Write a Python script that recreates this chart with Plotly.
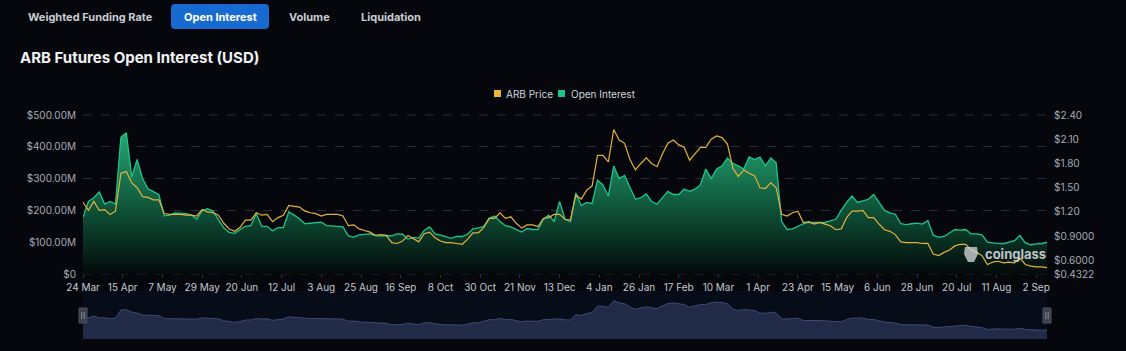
import plotly.graph_objects as go
import pandas as pd

# ---------------- data ----------------
start_date = "2023-03-24"
step_days = 3

open_interest_musd = [
    178, 228, 240, 258, 220, 228, 220, 430, 444, 305,
    360, 300, 268, 258, 250, 183, 185, 192, 192, 190,
    186, 173, 199, 205, 198, 172, 145, 131, 128, 140,
    150, 152, 190, 150, 150, 136, 146, 146, 195, 185,
    173, 158, 160, 160, 163, 152, 150, 150, 148, 120,
    116, 123, 124, 126, 121, 119, 121, 120, 126, 125,
    110, 115, 113, 137, 148, 126, 122, 118, 112, 118,
    118, 125, 142, 145, 150, 175, 182, 165, 152, 148,
    140, 132, 143, 140, 140, 172, 185, 165, 228, 172,
    165, 255, 215, 225, 222, 295, 280, 245, 340, 300,
    310, 272, 235, 240, 252, 228, 220, 240, 260, 250,
    250, 267, 260, 267, 280, 330, 300, 330, 340, 365,
    348, 340, 330, 368, 360, 368, 340, 365, 350, 165,
    140, 142, 150, 158, 162, 162, 164, 162, 167, 172,
    200, 225, 245, 225, 230, 235, 250, 225, 200, 192,
    188, 158, 155, 158, 160, 157, 168, 122, 115, 118,
    128, 140, 138, 140, 126, 126, 123, 100, 98, 96,
    95, 100, 105, 121, 98, 92, 95, 95, 100,
]

arb_price_usd = [
    1.32, 1.22, 1.33, 1.22, 1.23, 1.17, 1.21, 1.68, 1.70, 1.56,
    1.50, 1.39, 1.38, 1.35, 1.35, 1.18, 1.17, 1.17, 1.17, 1.16,
    1.16, 1.15, 1.23, 1.20, 1.19, 1.16, 1.06, 0.99, 0.96, 1.01,
    1.10, 1.10, 1.19, 1.16, 1.17, 1.08, 1.13, 1.16, 1.28, 1.27,
    1.26, 1.21, 1.19, 1.18, 1.15, 1.17, 1.17, 1.17, 1.15, 1.03,
    1.04, 0.99, 0.97, 0.95, 0.91, 0.92, 0.91, 0.82, 0.81, 0.84,
    0.91, 0.87, 0.83, 0.93, 0.95, 0.88, 0.84, 0.82, 0.82, 0.81,
    0.80, 0.86, 0.94, 0.94, 1.01, 1.12, 1.12, 1.19, 1.12, 1.14,
    1.06, 1.00, 1.04, 1.04, 1.02, 1.12, 1.13, 1.17, 1.17, 1.11,
    1.10, 1.41, 1.36, 1.47, 1.52, 1.90, 1.90, 1.82, 2.22, 2.09,
    2.05, 1.85, 1.72, 1.80, 1.87, 1.80, 1.76, 1.92, 2.05, 2.09,
    2.03, 2.00, 1.84, 1.92, 2.00, 2.00, 2.10, 2.14, 2.12, 2.04,
    1.74, 1.64, 1.72, 1.68, 1.65, 1.50, 1.49, 1.56, 1.50, 1.17,
    1.15, 1.19, 1.21, 1.07, 1.08, 1.05, 1.07, 1.05, 1.03, 0.98,
    0.99, 1.13, 1.21, 1.21, 1.22, 1.13, 1.13, 1.05, 0.98, 0.96,
    0.92, 0.83, 0.82, 0.82, 0.82, 0.81, 0.81, 0.68, 0.66, 0.70,
    0.73, 0.78, 0.80, 0.80, 0.73, 0.70, 0.66, 0.55, 0.58, 0.59,
    0.57, 0.58, 0.57, 0.63, 0.55, 0.53, 0.52, 0.52, 0.51,
]

dates = pd.date_range(start_date, periods=len(open_interest_musd), freq=f"{step_days}D")

x_tick_labels = ["24 Mar", "15 Apr", "7 May", "29 May", "20 Jun", "12 Jul", "3 Aug",
                 "25 Aug", "16 Sep", "8 Oct", "30 Oct", "21 Nov", "13 Dec", "4 Jan",
                 "26 Jan", "17 Feb", "10 Mar", "1 Apr", "23 Apr", "15 May", "6 Jun",
                 "28 Jun", "20 Jul", "11 Aug", "2 Sep"]
x_tick_dates = pd.date_range(start_date, periods=len(x_tick_labels), freq="22D")

oi_tick_vals = [0, 100, 200, 300, 400, 500]
oi_tick_labels = ["$0", "$100.00M", "$200.00M", "$300.00M", "$400.00M", "$500.00M"]
price_tick_vals = [0.4322, 0.6, 0.9, 1.2, 1.5, 1.8, 2.1, 2.4]
price_tick_labels = ["$0.4322", "$0.6000", "$0.9000", "$1.20", "$1.50", "$1.80", "$2.10", "$2.40"]

tab_labels = ["Weighted Funding Rate", "Open Interest", "Volume", "Liquidation"]
chart_title = "ARB Futures Open Interest (USD)"
legend_labels = ["ARB Price", "Open Interest"]

# ---------------- style ----------------
W, H = 1126, 351
ML, MR, MT, MB = 83, 79, 115, 12
PW, PH = W - ML - MR, H - MT - MB
BG = "#05070c"
FONT = "Inter, Noto Sans, sans-serif"
GREEN = "#1ec48c"
GOLD = "#e4b13c"
AXIS_TXT = "#a6abb5"
GRID = "#2a2e38"


def px(x):
    return (x - ML) / PW


def py(y):
    return (H - MB - y) / PH


main_bottom = py(274)
nav_top = py(291)

fig = go.Figure()

fig.add_trace(go.Scatter(
    x=dates, y=open_interest_musd, name=legend_labels[1], mode="lines",
    line=dict(color=GREEN, width=1.3), fill="tozeroy",
    fillgradient=dict(type="vertical", start=0, stop=450,
                      colorscale=[[0, "rgba(4,10,10,1)"], [0.45, "rgba(14,82,56,1)"],
                                  [1, "rgba(38,168,116,1)"]]),
    xaxis="x", yaxis="y", hoverinfo="skip", showlegend=False))

fig.add_trace(go.Scatter(
    x=dates, y=arb_price_usd, name=legend_labels[0], mode="lines",
    line=dict(color=GOLD, width=1.2), xaxis="x", yaxis="y3",
    hoverinfo="skip", showlegend=False))

# navigator
fig.add_trace(go.Scatter(
    x=dates, y=arb_price_usd, mode="lines", line=dict(color="#3d4b74", width=1),
    fill="tozeroy", fillcolor="#212b47", xaxis="x2", yaxis="y2",
    hoverinfo="skip", showlegend=False))

xr = [dates[0], dates[-1]]

fig.update_layout(
    width=W, height=H, margin=dict(l=ML, r=MR, t=MT, b=MB, autoexpand=False),
    paper_bgcolor=BG, plot_bgcolor=BG, font=dict(family=FONT, color=AXIS_TXT, size=10),
    xaxis=dict(domain=[0, 1], anchor="y", range=xr, tickvals=x_tick_dates, ticktext=x_tick_labels,
               showgrid=False, zeroline=False, showline=False, ticks="outside", ticklen=3,
               tickcolor="#2c313c", tickfont=dict(size=10, color="#c3c7cf"), ticklabelstandoff=1,
               automargin=False),
    yaxis=dict(domain=[main_bottom, 1], anchor="x", range=[0, 500], tickvals=oi_tick_vals,
               ticktext=oi_tick_labels, showgrid=True, gridcolor=GRID, griddash="dash",
               gridwidth=1, zeroline=False, showline=False, ticklabelstandoff=6,
               tickfont=dict(size=10, color=AXIS_TXT), automargin=False),
    yaxis3=dict(overlaying="y", side="right", anchor="x", range=[0.4322, 2.40],
                tickvals=price_tick_vals, ticktext=price_tick_labels, showgrid=False,
                zeroline=False, showline=False, ticklabelstandoff=6,
                tickfont=dict(size=10, color=AXIS_TXT), automargin=False),
    xaxis2=dict(domain=[0, 1], anchor="y2", matches="x", visible=False, automargin=False),
    yaxis2=dict(domain=[0, nav_top], anchor="x2", range=[0, 2.78], visible=False,
                automargin=False),
    showlegend=False,
)

shapes = []
# top / bottom grid lines drawn explicitly so edges always show
for gy in (0, 1):
    shapes.append(dict(type="line", xref="paper", yref="y domain", x0=0, x1=1, y0=gy, y1=gy,
                       line=dict(color=GRID, width=1, dash="dash"), layer="below"))
# navigator background
shapes.append(dict(type="rect", xref="x2 domain", yref="y2 domain", x0=0, x1=1, y0=0, y1=1,
                   fillcolor="#070c19", line=dict(width=0), layer="below"))
# navigator handles
for hx in (0, 1):
    shapes.append(dict(type="rect", xref="paper", yref="paper",
                       x0=hx - 4 / PW, x1=hx + 4 / PW, y0=py(323), y1=py(308),
                       fillcolor="#3b404c", line=dict(color="#4a505c", width=1)))
    for off in (-1.2, 1.2):
        shapes.append(dict(type="line", xref="paper", yref="paper",
                           x0=hx + off / PW, x1=hx + off / PW, y0=py(319), y1=py(312),
                           line=dict(color="#9aa0aa", width=0.8)))

# rounded tab button
bx0, bx1, by0, by1, r = px(171), px(269), py(29), py(4), 4
rx, ry = r / PW, r / PH
path = (f"M {bx0+rx},{by1} L {bx1-rx},{by1} Q {bx1},{by1} {bx1},{by1-ry} "
        f"L {bx1},{by0+ry} Q {bx1},{by0} {bx1-rx},{by0} L {bx0+rx},{by0} "
        f"Q {bx0},{by0} {bx0},{by0+ry} L {bx0},{by1-ry} Q {bx0},{by1} {bx0+rx},{by1} Z")
shapes.append(dict(type="path", xref="paper", yref="paper", path=path,
                   fillcolor="#176bd0", line=dict(width=0)))

# legend squares
shapes.append(dict(type="rect", xref="paper", yref="paper", x0=px(494), x1=px(501),
                   y0=py(97), y1=py(90), fillcolor="#e8b53e", line=dict(width=0)))
shapes.append(dict(type="rect", xref="paper", yref="paper", x0=px(558), x1=px(565),
                   y0=py(97), y1=py(90), fillcolor="#1bc48b", line=dict(width=0)))

# watermark logo blob
shapes.append(dict(type="path", xref="paper", yref="paper",
                   path=(f"M {px(965)},{py(247)} L {px(977)},{py(247)} L {px(978)},{py(254)} "
                         f"L {px(974)},{py(262)} L {px(968)},{py(262)} L {px(964)},{py(254)} Z"),
                   fillcolor="rgba(205,208,214,0.8)", line=dict(width=0)))

fig.update_layout(shapes=shapes)

ann = []
tab_pos = [90, 220, 309, 391]
for lbl, cx in zip(tab_labels, tab_pos):
    ann.append(dict(text=f"<b>{lbl}</b>", x=px(cx), y=py(16.5), xref="paper", yref="paper",
                    showarrow=False, xanchor="center", yanchor="middle",
                    font=dict(size=11, color="#ffffff" if lbl == "Open Interest" else "#c9cdd4",
                              family=FONT)))
ann.append(dict(text=f"<b>{chart_title}</b>", x=px(18), y=py(57), xref="paper", yref="paper",
                showarrow=False, xanchor="left", yanchor="middle",
                font=dict(size=15, color="#f2f3f5", family=FONT)))
ann.append(dict(text=legend_labels[0], x=px(504), y=py(93.5), xref="paper", yref="paper",
                showarrow=False, xanchor="left", yanchor="middle",
                font=dict(size=10, color="#d2d5db", family=FONT)))
ann.append(dict(text=legend_labels[1], x=px(569), y=py(93.5), xref="paper", yref="paper",
                showarrow=False, xanchor="left", yanchor="middle",
                font=dict(size=10, color="#d2d5db", family=FONT)))
ann.append(dict(text="<b>coinglass</b>", x=px(983), y=py(254), xref="paper", yref="paper",
                showarrow=False, xanchor="left", yanchor="middle",
                font=dict(size=13, color="rgba(225,228,233,0.85)", family=FONT)))
fig.update_layout(annotations=ann)

fig.write_html("out.html", config={"displayModeBar": False})
